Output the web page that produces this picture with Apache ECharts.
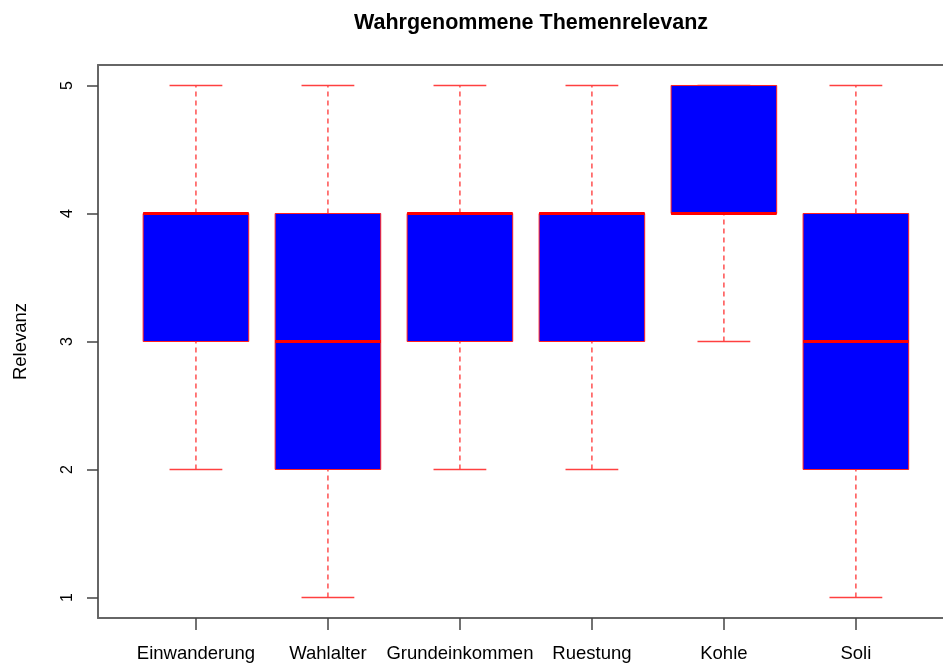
<!DOCTYPE html>
<html>
<head>
<meta charset="utf-8">
<script src="https://cdn.jsdelivr.net/npm/echarts@6/dist/echarts.min.js"></script>
<style>
html,body{margin:0;padding:0;background:#fff;}
#main{width:943px;height:665px;}
</style>
</head>
<body>
<div id="main"></div>
<script>
// Kategorien und Kennwerte der Boxplots
var categories = ['Einwanderung', 'Wahlalter', 'Grundeinkommen', 'Ruestung', 'Kohle', 'Soli'];
var lowerWhisker = [2, 1, 2, 2, 3, 1];
var lowerQuartile = [3, 2, 3, 3, 4, 2];
var medians = [4, 3, 4, 4, 4, 3];
var upperQuartile = [4, 4, 4, 4, 5, 4];
var upperWhisker = [5, 5, 5, 5, 5, 5];
var yTicks = [1, 2, 3, 4, 5];
var xTicks = [1, 2, 3, 4, 5, 6];

var boxData = [];
for (var i = 0; i < categories.length; i++) {
    boxData.push([i + 1, lowerWhisker[i], lowerQuartile[i], medians[i], upperQuartile[i], upperWhisker[i]]);
}

var FONT = '"Liberation Sans", Arial, sans-serif';
var FRAME = {color: '#666', width: 2};

function renderBox(params, api) {
    var x = api.value(0);
    var unit = api.size([1, 0])[0];
    var cx = api.coord([x, 0])[0];
    var yMin = api.coord([x, api.value(1)])[1];
    var yQ1 = api.coord([x, api.value(2)])[1];
    var yMed = api.coord([x, api.value(3)])[1];
    var yQ3 = api.coord([x, api.value(4)])[1];
    var yMax = api.coord([x, api.value(5)])[1];
    var boxW = unit * 0.8;
    var capW = unit * 0.4;
    var whiskerStyle = {stroke: '#ff5050', lineWidth: 1.5, lineDash: [5, 4]};
    var capStyle = {stroke: '#ff4040', lineWidth: 1.6};
    return {
        type: 'group',
        children: [
            {type: 'line', shape: {x1: cx, y1: yMin, x2: cx, y2: yQ1}, style: whiskerStyle},
            {type: 'line', shape: {x1: cx, y1: yQ3, x2: cx, y2: yMax}, style: whiskerStyle},
            {type: 'line', shape: {x1: cx - capW / 2, y1: yMin, x2: cx + capW / 2, y2: yMin}, style: capStyle},
            {type: 'line', shape: {x1: cx - capW / 2, y1: yMax, x2: cx + capW / 2, y2: yMax}, style: capStyle},
            {type: 'rect', shape: {x: cx - boxW / 2, y: yQ3, width: boxW, height: yQ1 - yQ3},
                style: {fill: '#0000ff', stroke: '#ff2020', lineWidth: 1}},
            {type: 'line', shape: {x1: cx - boxW / 2, y1: yMed, x2: cx + boxW / 2, y2: yMed},
                style: {stroke: '#ff0000', lineWidth: 3}}
        ]
    };
}

var chart = echarts.init(document.getElementById('main'));
var option = {
    animation: false,
    backgroundColor: '#fff',
    title: {
        text: 'Wahrgenommene Themenrelevanz',
        left: 526,
        textAlign: 'center',
        top: 7,
        textStyle: {fontFamily: FONT, fontSize: 21.5, fontWeight: 'bold', color: '#000'}
    },
    grid: {left: 98, top: 65, right: 0, height: 553},
    xAxis: [{
        type: 'value',
        position: 'bottom',
        min: 0.258,
        max: 6.66,
        axisLine: {show: true, onZero: false, lineStyle: FRAME},
        splitLine: {show: false},
        axisTick: {show: true, length: 12, customValues: xTicks, lineStyle: {color: '#444', width: 1.5}},
        axisLabel: {
            customValues: xTicks,
            margin: 26,
            fontFamily: FONT, fontSize: 18.5, color: '#000',
            formatter: function (v) { return categories[Math.round(v) - 1] || ''; }
        }
    }, {
        type: 'value',
        position: 'top',
        min: 0.258,
        max: 6.66,
        axisLine: {show: true, onZero: false, lineStyle: FRAME},
        splitLine: {show: false},
        axisTick: {show: false},
        axisLabel: {show: false}
    }],
    yAxis: {
        type: 'value',
        min: 0.84,
        max: 5.16,
        name: 'Relevanz',
        nameLocation: 'middle',
        nameGap: 68,
        nameRotate: 90,
        nameTextStyle: {fontFamily: FONT, fontSize: 18.5, color: '#000'},
        axisLine: {show: true, onZero: false, lineStyle: FRAME},
        splitLine: {show: false},
        axisTick: {show: true, length: 11, customValues: yTicks, lineStyle: {color: '#444', width: 1.5}},
        axisLabel: {
            customValues: yTicks,
            rotate: 90,
            margin: 22,
            fontFamily: FONT, fontSize: 16, color: '#000'
        }
    },
    series: [{
        type: 'custom',
        renderItem: renderBox,
        xAxisIndex: 0,
        encode: {x: 0, y: [1, 2, 3, 4, 5]},
        data: boxData
    }]
};
chart.setOption(option);
</script>
</body>
</html>
